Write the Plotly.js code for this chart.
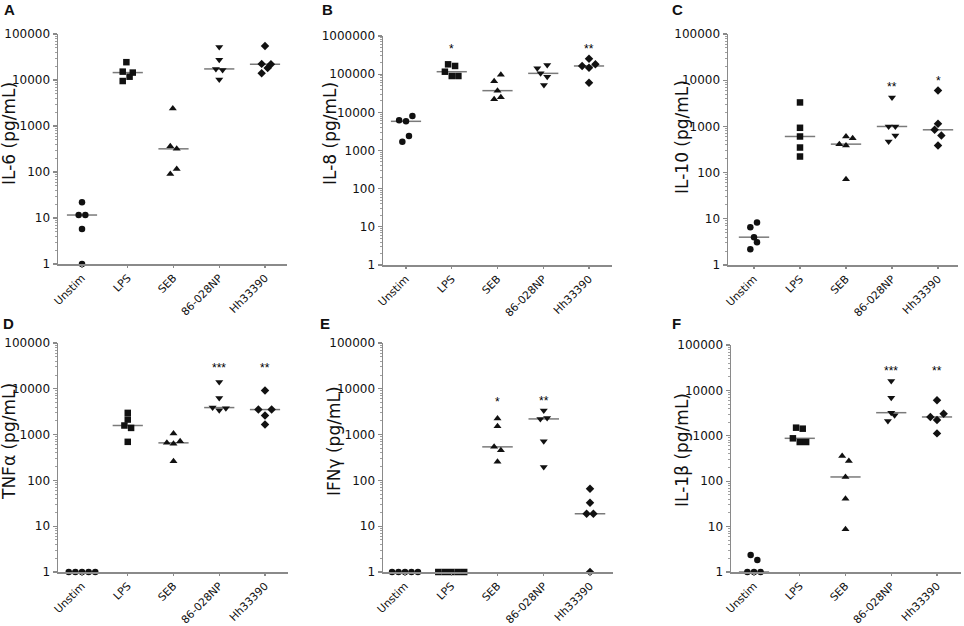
<!DOCTYPE html>
<html><head><meta charset="utf-8">
<script src="https://cdn.plot.ly/plotly-3.0.1.min.js"></script>
<style>html,body{margin:0;padding:0;background:#fff}#chart{width:964px;height:626px}</style>
</head><body><div id="chart"></div>
<script>
// ---------- data ----------
const categories = ["Unstim", "LPS", "SEB", "86-028NP", "Hh33390"];
const panelLetters = ["A", "B", "C", "D", "E", "F"];
const yTitles = ["IL-6 (pg/mL)", "IL-8 (pg/mL)", "IL-10 (pg/mL)", "TNF\u03b1 (pg/mL)", "IFN\u03b3 (pg/mL)", "IL-1\u03b2 (pg/mL)"];
const yTickText5 = ["1", "10", "100", "1000", "10000", "100000"];
const yTickText6 = ["1", "10", "100", "1000", "10000", "100000", "1000000"];

// IL-6 (A)
const il6Values = [[22, 11.6, 11.6, 5.8, 1], [24400, 15200, 14500, 11800, 9500], [2400, 365, 319, 116, 90], [51900, 27400, 17400, 16600, 10300], [54600, 22400, 22000, 18300, 14000]];
const il6Jitter = [[0, -0.073, 0.073, 0, 0], [-0.03, -0.11, 0.11, 0.04, -0.11], [-0.015, -0.07, 0.07, 0.07, -0.07], [0, 0, -0.073, 0.073, 0], [0, -0.073, 0.13, 0.058, -0.073]];
const il6Stars = ["", "", "", "**", "**"];
const il6StarLevel = [null, null, null, 142000, 142000];

// IL-8 (B)
const il8Values = [[6170, 5810, 8020, 2400, 1700], [181000, 164000, 116000, 89500, 89500], [97000, 64900, 37000, 24700, 21900], [142000, 174000, 105000, 86000, 52000], [255000, 164000, 148000, 181000, 59900]];
const il8Jitter = [[-0.15, 0, 0.14, 0.065, -0.08], [-0.08, 0.073, -0.15, 0, 0.145], [0.073, -0.073, 0, 0.073, -0.073], [-0.13, 0.087, -0.058, 0.087, 0.015], [0, -0.15, 0, 0.14, 0]];
const il8Stars = ["", "*", "", "", "**"];
const il8StarLevel = [null, 558000, null, null, 558000];

// IL-10 (C)
const il10Values = [[8.3, 6.6, 4.0, 3.1, 2.2], [3300, 933, 605, 349, 223], [605, 413, 557, 386, 72], [4240, 996, 996, 636, 471], [6010, 1140, 844, 636, 386]];
const il10Jitter = [[0.065, -0.08, 0, 0.065, -0.08], [0, 0, 0, 0, 0], [0, -0.145, 0.145, 0, 0], [0, -0.073, 0.073, 0.073, -0.073], [0, 0, -0.073, 0.073, 0]];
const il10Stars = ["", "", "", "**", "*"];
const il10StarLevel = [null, null, null, 8380, 11100];

// TNFa (D)
const tnfValues = [[1, 1, 1, 1, 1], [2980, 2130, 1580, 1400, 695], [1056, 660, 718, 628, 263], [14100, 6320, 3890, 3770, 3400], [9140, 3520, 3520, 2600, 1660]];
const tnfJitter = [[-0.29, -0.145, 0, 0.145, 0.29], [0, 0, -0.073, 0.073, 0], [0, -0.145, 0.145, 0, 0], [0, 0, -0.145, 0.145, 0], [0, -0.145, 0.145, 0, 0]];
const tnfStars = ["", "", "", "***", "**"];
const tnfStarLevel = [null, null, null, 33700, 33700];

// IFNg (E)
const ifnValues = [[1, 1, 1, 1, 1], [1, 1, 1, 1, 1], [2240, 1525, 540, 457, 255], [3350, 2200, 2315, 718, 195], [65.6, 32.5, 18.7, 18.7, 1]];
const ifnJitter = [[-0.28, -0.14, 0, 0.14, 0.28], [-0.28, -0.14, 0, 0.14, 0.28], [0, 0, -0.073, 0.073, 0], [0, -0.073, 0.073, 0, 0], [0, 0, -0.073, 0.073, 0]];
const ifnStars = ["", "", "*", "**", ""];
const ifnStarLevel = [null, null, 6010, 6220, null];

// IL-1b (F)
const il1bValues = [[2.37, 1.84, 1, 1, 1], [1510, 1435, 880, 730, 730], [359, 279, 124, 41, 8.7], [16100, 6920, 3230, 2830, 2120], [6040, 2600, 3070, 2230, 1130]];
const il1bJitter = [[-0.073, 0.073, -0.145, 0, 0.145], [-0.08, 0.065, -0.15, 0, 0.14], [-0.073, 0.073, 0, 0, 0], [0, 0, 0, 0.073, -0.073], [0, -0.145, 0.145, 0, 0]];
const il1bStars = ["", "", "", "***", "**"];
const il1bStarLevel = [null, null, null, 30600, 30600];

// ---------- layout geometry (pixels) ----------
const W = 964, H = 626;
const panels = [
  {vals: il6Values,  jit: il6Jitter,  stars: il6Stars,  starY: il6StarLevel,  px: [58, 287],  py: [34, 264],  c0: 82,  sp: 45.75, dec: 5, tx: 9,   ty: 134, lx: 9,   ly: 10},
  {vals: il8Values,  jit: il8Jitter,  stars: il8Stars,  starY: il8StarLevel,  px: [383, 612], py: [36, 265],  c0: 406, sp: 45.75, dec: 6, tx: 330, ty: 134, lx: 327, ly: 10},
  {vals: il10Values, jit: il10Jitter, stars: il10Stars, starY: il10StarLevel, px: [728, 958], py: [34, 265],  c0: 754, sp: 46,    dec: 5, tx: 682, ty: 137, lx: 677, ly: 10},
  {vals: tnfValues,  jit: tnfJitter,  stars: tnfStars,  starY: tnfStarLevel,  px: [58, 288],  py: [343, 572], c0: 82,  sp: 45.75, dec: 5, tx: 9,   ty: 442, lx: 8,   ly: 324},
  {vals: ifnValues,  jit: ifnJitter,  stars: ifnStars,  starY: ifnStarLevel,  px: [383, 613], py: [343, 572], c0: 405, sp: 46.25, dec: 5, tx: 334, ty: 441, lx: 325, ly: 324},
  {vals: il1bValues, jit: il1bJitter, stars: il1bStars, starY: il1bStarLevel, px: [731, 961], py: [345, 572], c0: 754, sp: 45.75, dec: 5, tx: 682, ty: 450, lx: 676, ly: 323}
];

const symbols = ["circle", "square", "triangle-up", "triangle-down", "diamond"];
const msizes = [6.5, 6.5, 7, 7, 6.5];
const axisGrey = "#8a8a8a";
const tickFont = {family: "DejaVu Sans, Arial, sans-serif", size: 12, color: "#111"};

function median(a) {
  const s = a.slice().sort((p, q) => p - q);
  return s[Math.floor(s.length / 2)];
}

const traces = [];
const layout = {
  width: W, height: H,
  margin: {l: 0, r: 0, t: 0, b: 0},
  paper_bgcolor: "#fff", plot_bgcolor: "#fff",
  showlegend: false,
  annotations: []
};

panels.forEach((p, k) => {
  const n = k === 0 ? "" : String(k + 1);
  const xa = "x" + n, ya = "y" + n;
  // median lines
  p.vals.forEach((g, i) => {
    const m = median(g);
    traces.push({
      x: [i - 0.33, i + 0.33], y: [m, m], xaxis: xa, yaxis: ya,
      mode: "lines", line: {color: "#7a7a7a", width: 1.5},
      hoverinfo: "skip", cliponaxis: false
    });
  });
  // points
  p.vals.forEach((g, i) => {
    traces.push({
      x: p.jit[i].map(o => i + o), y: g, xaxis: xa, yaxis: ya,
      mode: "markers", name: categories[i], cliponaxis: false,
      marker: {symbol: symbols[i], size: msizes[i], color: "#111", line: {width: 0}}
    });
  });
  // axes
  const left = (p.c0 - p.px[0]) / p.sp;
  const right = (p.px[1] - p.c0) / p.sp;
  const majors = [], minors = [];
  for (let d = 0; d <= p.dec; d++) {
    majors.push(Math.pow(10, d));
    if (d < p.dec) for (let j = 2; j <= 9; j++) minors.push(j * Math.pow(10, d));
  }
  layout["xaxis" + n] = {
    domain: [p.px[0] / W, p.px[1] / W], anchor: ya,
    range: [-left, right], tickmode: "array", tickvals: [0, 1, 2, 3, 4], ticktext: categories,
    tickangle: -45, ticks: "outside", ticklen: 2, tickwidth: 1.2, tickcolor: axisGrey,
    showline: true, linecolor: axisGrey, linewidth: 1.5, showgrid: false, zeroline: false,
    tickfont: {family: tickFont.family, size: 10.8, color: "#111"}, fixedrange: true
  };
  layout["yaxis" + n] = {
    domain: [1 - p.py[1] / H, 1 - p.py[0] / H], anchor: xa,
    type: "log", range: [0, p.dec], tickmode: "array", tickvals: majors,
    ticktext: p.dec === 6 ? yTickText6 : yTickText5,
    ticks: "outside", ticklen: 4, tickwidth: 1.2, tickcolor: axisGrey,
    minor: {tickmode: "array", tickvals: minors, ticks: "outside", ticklen: 2, tickwidth: 1, tickcolor: "#a0a0a0"},
    showline: true, linecolor: axisGrey, linewidth: 1.5, showgrid: false, zeroline: false,
    tickfont: tickFont, fixedrange: true
  };
  // stars
  p.stars.forEach((s, i) => {
    if (!s) return;
    layout.annotations.push({
      xref: xa, yref: ya, x: i, y: Math.log10(p.starY[i]), text: s, showarrow: false,
      font: {family: "Liberation Sans, Arial, sans-serif", size: 12, color: "#000"}, yshift: -3
    });
  });
  // y title
  layout.annotations.push({
    xref: "paper", yref: "paper", x: p.tx / W, y: 1 - p.ty / H, text: yTitles[k],
    textangle: -90, showarrow: false, xanchor: "center", yanchor: "middle",
    font: {family: "DejaVu Sans, Arial, sans-serif", size: 17, color: "#111"}
  });
  // panel letter
  layout.annotations.push({
    xref: "paper", yref: "paper", x: p.lx / W, y: 1 - p.ly / H, text: "<b>" + panelLetters[k] + "</b>",
    showarrow: false, xanchor: "center", yanchor: "middle",
    font: {family: "Liberation Sans, Arial, sans-serif", size: 15, color: "#111"}
  });
});

Plotly.newPlot("chart", traces, layout, {staticPlot: true, displayModeBar: false});
</script>
</body></html>
